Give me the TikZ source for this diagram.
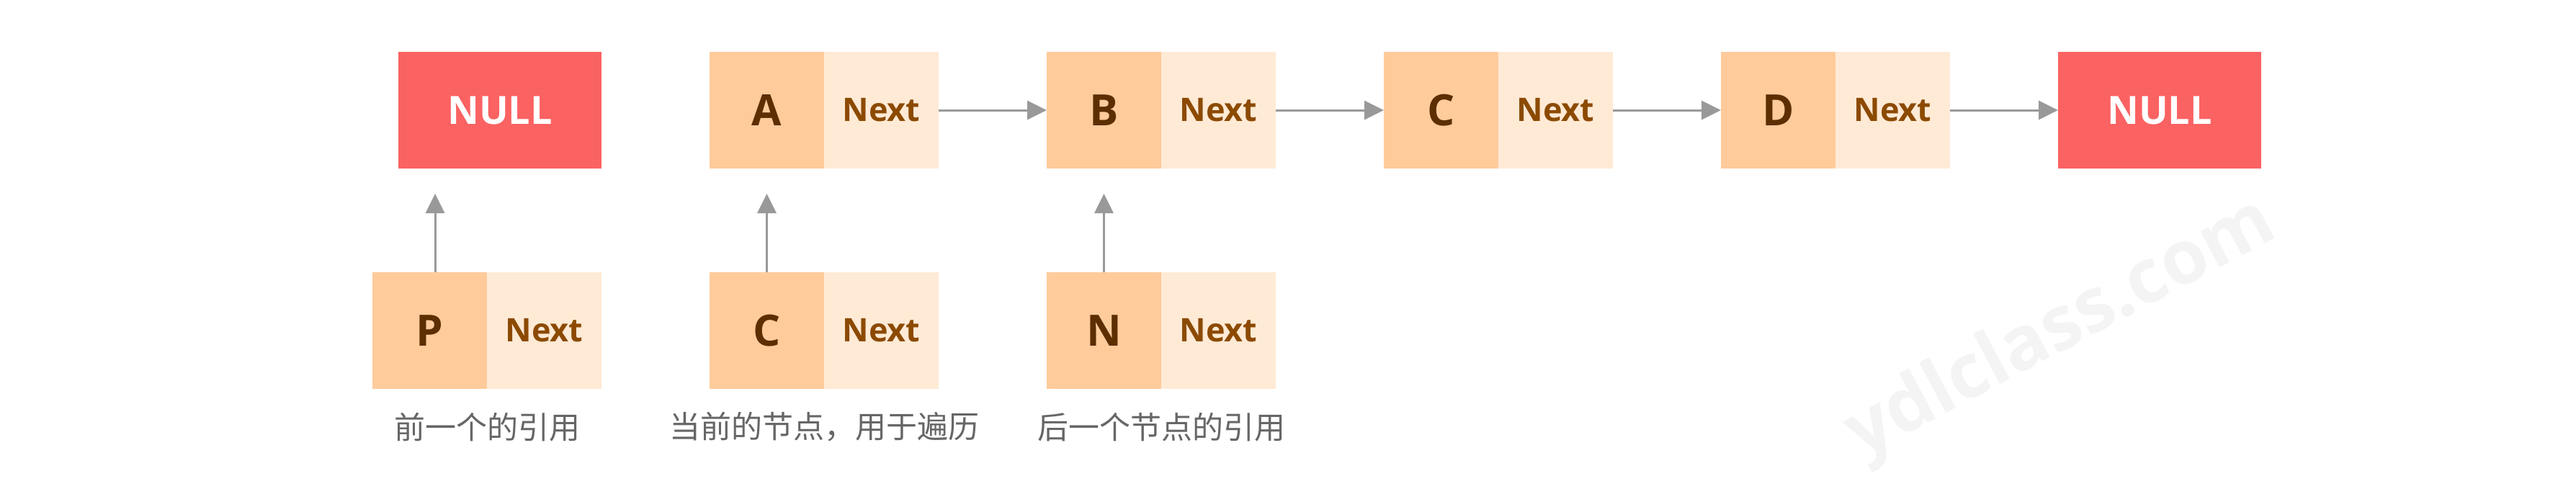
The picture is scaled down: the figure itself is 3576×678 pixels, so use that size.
\documentclass[tikz,border=0pt]{standalone}
\usepackage{fontspec}
\setmainfont{Open Sans}
\newfontfamily\cjk{Noto Sans CJK SC}
\usetikzlibrary{positioning,arrows.meta}

\definecolor{nullred}{HTML}{FB6262}
\definecolor{datafill}{HTML}{FFCB9B}
\definecolor{nextfill}{HTML}{FFEAD6}
\definecolor{datatext}{HTML}{5C2E00}
\definecolor{nexttext}{HTML}{8C4A00}
\definecolor{linkgray}{HTML}{999999}
\definecolor{notegray}{HTML}{666666}
\definecolor{markgray}{HTML}{F4F4F4}

\tikzset{
  cell/.style={minimum height=162pt, inner sep=0pt, outer sep=0pt},
  datacell/.style={cell, minimum width=159pt, fill=datafill, text=datatext,
    font=\fontsize{60}{60}\selectfont\bfseries},
  nextcell/.style={cell, minimum width=159pt, fill=nextfill, text=nexttext,
    font=\fontsize{45}{45}\selectfont\bfseries},
  nullbox/.style={cell, minimum width=282pt, fill=nullred, text=white,
    font=\fontsize{54}{54}\selectfont\bfseries},
  link/.style={draw=linkgray, line width=3pt, -{Triangle[length=27pt,width=26pt]}},
  note/.style={text=notegray, font=\cjk\fontsize{43}{43}\selectfont}
}

\begin{document}
\begin{tikzpicture}[x=1pt,y=-1pt]
\useasboundingbox (0,0) rectangle (3576,678);
% watermark
\node[rotate=28, text=markgray, font=\fontsize{104}{104}\selectfont\bfseries]
  (mark) at (2862,458) {ydlclass.com};
% the list
\node[nullbox, anchor=north west] (null1) at (553,72) {NULL};
\foreach \name/\x in {A/985, B/1453, C/1921, D/2389}{
  \node[datacell, anchor=north west] (\name) at (\x,72) {\name};
  \node[nextcell, right=0pt of \name] (\name-next) {Next};
}
\node[nullbox, anchor=north west] (null2) at (2857,72) {NULL};
\foreach \from/\to in {A/B, B/C, C/D}
  \draw[link] (\from-next) -- (\to);
\draw[link] (D-next) -- (null2);
% the references
\node[datacell, anchor=north west] (prev) at (517,378) {P};
\node[nextcell, right=0pt of prev] (prev-next) {Next};
\node[datacell, anchor=north west] (cur) at (985,378) {C};
\node[nextcell, right=0pt of cur] (cur-next) {Next};
\node[datacell, anchor=north west] (nxt) at (1453,378) {N};
\node[nextcell, right=0pt of nxt] (nxt-next) {Next};
\coordinate (prev-tip) at (604,269);
\draw[link] (prev-tip |- prev.north) -- (prev-tip);
\draw[link] (cur.north) -- ([yshift=-35pt]A.south);
\draw[link] (nxt.north) -- ([yshift=-35pt]B.south);
% notes
\node[note] (prev-note) at ([yshift=-53pt]prev.south east) {前一个的引用};
\node[note] (cur-note) at ([yshift=-53pt]cur.south east) {当前的节点，用于遍历};
\node[note] (nxt-note) at ([yshift=-53pt]nxt.south east) {后一个节点的引用};
\end{tikzpicture}
\end{document}
